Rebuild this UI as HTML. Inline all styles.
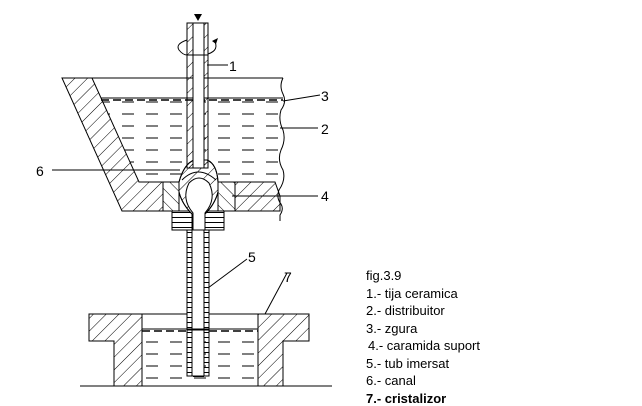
<!DOCTYPE html>
<html><head><style>
body{margin:0;background:#fff;width:642px;height:406px;overflow:hidden}
svg{display:block}
text{font-family:"Liberation Sans",Arial,sans-serif;fill:#000}
</style></head><body>
<svg width="642" height="406" viewBox="0 0 642 406" xmlns="http://www.w3.org/2000/svg">
<defs>
<pattern id="h" width="9" height="9" patternUnits="userSpaceOnUse" patternTransform="rotate(45)"><line x1="0" y1="0" x2="0" y2="9" stroke="#000" stroke-width="1"/></pattern>
<pattern id="h2" width="9" height="9" patternUnits="userSpaceOnUse" patternTransform="rotate(-45)"><line x1="0" y1="0" x2="0" y2="9" stroke="#000" stroke-width="1"/></pattern>
<pattern id="hr" width="6" height="5" patternUnits="userSpaceOnUse"><line x1="0" y1="2.5" x2="6" y2="2.5" stroke="#000" stroke-width="1"/></pattern>
<pattern id="d" width="24" height="12" patternUnits="userSpaceOnUse"><line x1="2" y1="6" x2="14" y2="6" stroke="#000" stroke-width="1"/></pattern>
</defs>
<g stroke="#000" stroke-width="1" fill="none">
<polygon points="101,100 283,100 280,182 139,182" fill="url(#d)" stroke="none"/>
<line x1="101" y1="98" x2="283" y2="98"/>
<line x1="101" y1="100" x2="283" y2="100" stroke-dasharray="8,4" stroke-width="1.5"/>
<polygon points="62,78 92,78 139,182 163,182 163,211 122,211" fill="url(#h)"/>
<line x1="92" y1="78" x2="283" y2="78"/>
<path d="M283,78 q-4,8 0,16 q4,8 -2,16 q-3,10 2,20 q3,10 -2,20 q-4,10 2,20 q3,10 -4,20 q-3,8 2,14 q3,5 -1,11 l0,6" />
<rect x="163" y="182" width="16" height="29" fill="url(#h2)"/>
<rect x="218" y="182" width="17" height="29" fill="url(#h2)"/>
<polygon points="235,182 275,182 280,196 280,211 235,211" fill="url(#h)"/>
<line x1="122" y1="211" x2="280" y2="211"/>
<rect x="172" y="211" width="52" height="19" fill="url(#hr)"/>
<path d="M179,182 q5,-18 15,-22 l13,0 q10,4 11,22 l0,10 q-3,12 -13,22 l0,16 l-13,0 l0,-16 q-10,-10 -13,-22 z" fill="#fff"/>
<path d="M179,182 q5,-18 15,-22 l13,0 q10,4 11,22 l0,10 q-3,12 -13,22 l0,16 l-13,0 l0,-16 q-10,-10 -13,-22 z" fill="url(#h)"/>
<path d="M193,213 q-12,-14 -4,-30 q10,-10 20,0 q8,16 -4,30 l0,17 l-12,0 z" fill="#fff"/>
<path d="M182,180 q16,-16 34,0" />
<rect x="187" y="23" width="21" height="145" fill="url(#h)"/>
<rect x="193" y="23" width="11" height="145" fill="#fff"/>
<line x1="187" y1="55" x2="208" y2="55"/>
<rect x="187" y="230" width="22" height="146" fill="url(#hr)"/>
<rect x="192" y="230" width="12" height="146" fill="#fff"/>
<line x1="193" y1="376" x2="204" y2="376" stroke-width="2"/>
<polygon points="142,331 258,331 258,386 142,386" fill="url(#d)" stroke="none"/>
<rect x="187" y="330" width="22" height="46" fill="url(#hr)"/>
<rect x="192" y="330" width="12" height="46" fill="#fff"/>
<line x1="142" y1="329" x2="258" y2="329"/>
<line x1="142" y1="331" x2="187" y2="331" stroke-dasharray="8,4" stroke-width="1.5"/>
<line x1="209" y1="331" x2="258" y2="331" stroke-dasharray="8,4" stroke-width="1.5"/>
<polygon points="89,314 142,314 142,386 114,386 114,341 89,341" fill="url(#h)"/>
<polygon points="258,314 309,314 309,341 283,341 283,386 258,386" fill="url(#h)"/>
<line x1="142" y1="314" x2="187" y2="314"/>
<line x1="209" y1="314" x2="258" y2="314"/>
<line x1="80" y1="386" x2="332" y2="386"/>
<path d="M187,40 q-12,4 -8,10 q4,5 8,5 M208,54 q12,-4 6,-14"/>
<line x1="207" y1="65" x2="228" y2="65"/>
<line x1="283" y1="101" x2="320" y2="95"/>
<line x1="280" y1="128" x2="318" y2="128"/>
<line x1="52" y1="170" x2="180" y2="170"/>
<line x1="232" y1="196" x2="318" y2="196"/>
<line x1="208" y1="288" x2="247" y2="259"/>
<line x1="265" y1="314" x2="287" y2="273"/>
</g>
<polygon points="194,14 202,14 198,21" fill="#000"/>
<polygon points="212,41 218,38 216,44" fill="#000"/>
<g font-size="14">
<text x="229" y="71">1</text>
<text x="321" y="101">3</text>
<text x="321" y="134">2</text>
<text x="36" y="176">6</text>
<text x="321" y="201">4</text>
<text x="248" y="262">5</text>
<text x="284" y="282">7</text>
</g>
<g font-size="13">
<text x="366" y="280">fig.3.9</text>
<text x="366" y="298">1.- tija ceramica</text>
<text x="366" y="315">2.- distribuitor</text>
<text x="366" y="333">3.- zgura</text>
<text x="368" y="350">4.- caramida suport</text>
<text x="366" y="368">5.- tub imersat</text>
<text x="366" y="385">6.- canal</text>
<text x="366" y="403" font-weight="bold">7.- cristalizor</text>
</g>
</svg>
</body></html>
